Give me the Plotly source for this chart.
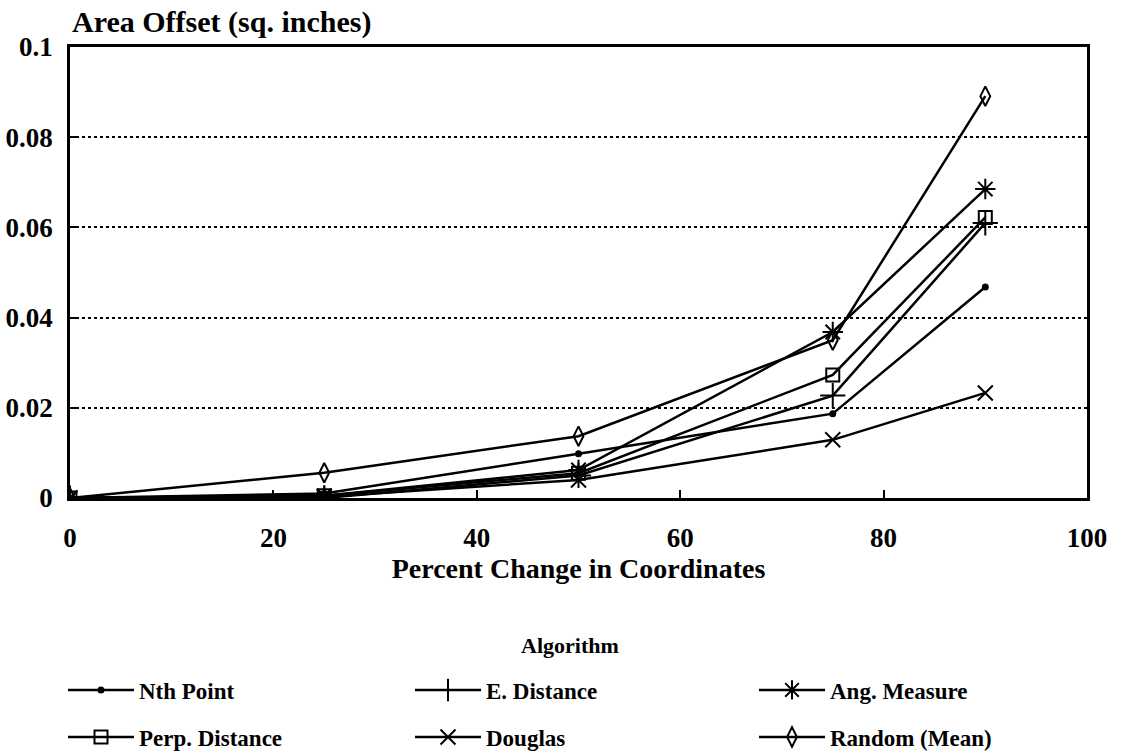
import plotly.graph_objects as go

x_pct = [0, 25, 50, 75, 90]
nth_point = [0, 0.001, 0.0098, 0.0187, 0.0468]
e_distance = [0, 0.0, 0.005, 0.0227, 0.0610]
ang_measure = [0, 0.0005, 0.0062, 0.0368, 0.0685]
perp_distance = [0, 0.0005, 0.0055, 0.0273, 0.0622]
douglas = [0, 0.0003, 0.0040, 0.0129, 0.0233]
random_mean = [0, 0.0056, 0.0137, 0.0350, 0.0891]

series = [
    ("Nth Point", nth_point, "circle", 5),
    ("E. Distance", e_distance, "cross-thin-open", 18),
    ("Ang. Measure", ang_measure, "asterisk-open", 17),
    ("Perp. Distance", perp_distance, "square-open", 13),
    ("Douglas", douglas, "x-thin-open", 15),
    ("Random (Mean)", random_mean, "diamond-tall-open", 14),
]

# legend grid: 3 columns x 2 rows (pixel anchors in the page)
legend_cols = [63, 410, 754]
legend_rows = [690, 737]

font_family = "Liberation Serif, Times New Roman, serif"

fig = go.Figure()
legend_layouts = {}
for i, (name, ys, sym, size) in enumerate(series):
    lid = "legend" if i == 0 else f"legend{i + 1}"
    fig.add_trace(go.Scatter(
        x=x_pct, y=ys, name=name, mode="lines+markers", legend=lid,
        line=dict(color="black", width=2.5),
        marker=dict(symbol=sym, size=size, color="black",
                    line=dict(color="black", width=2)),
    ))
    col, row = i % 3, i // 3
    legend_layouts[lid] = dict(
        orientation="h", xref="container", yref="container",
        x=legend_cols[col] / 1139, y=1 - legend_rows[row] / 756,
        xanchor="left", yanchor="middle", itemwidth=66,
        font=dict(size=23, family=font_family, weight="bold"),
        bgcolor="rgba(0,0,0,0)",
    )

fig.update_layout(
    width=1139, height=756,
    margin=dict(l=70, r=52, t=47, b=258),
    paper_bgcolor="white", plot_bgcolor="white",
    font=dict(family=font_family, color="black", size=20),
    xaxis=dict(
        range=[0, 100], tickvals=[0, 20, 40, 60, 80, 100],
        showline=True, linecolor="black", linewidth=2.5, mirror=True,
        ticks="inside", ticklen=8, tickcolor="black", tickwidth=1.5,
        showgrid=False, zeroline=False, ticklabelstandoff=14,
        automargin=False, tickangle=0,
        tickfont=dict(size=27, family=font_family, weight="bold"),
        title=dict(text="<b>Percent Change in Coordinates</b>",
                   font=dict(size=28, family=font_family), standoff=6),
    ),
    yaxis=dict(
        range=[0, 0.1], tickvals=[0, 0.02, 0.04, 0.06, 0.08, 0.1],
        ticktext=["0", "0.02", "0.04", "0.06", "0.08", "0.1"],
        showline=True, linecolor="black", linewidth=2.5, mirror=True,
        ticks="inside", ticklen=8, tickcolor="black", tickwidth=2,
        showgrid=True, gridcolor="black", griddash="dot",
        gridwidth=1.5, zeroline=False, ticklabelstandoff=9,
        automargin=False,
        tickfont=dict(size=27, family=font_family, weight="bold"),
    ),
    annotations=[
        dict(
            text="<b>Area Offset (sq. inches)</b>", xref="paper", yref="paper",
            x=0, y=1, xanchor="left", yanchor="bottom", yshift=6,
            showarrow=False, font=dict(size=30, family=font_family),
        ),
        dict(
            text="<b>Algorithm</b>", xref="paper", yref="paper",
            x=(570 - 70) / 1017, y=-(645 - 498) / 451, xanchor="center",
            yanchor="middle", showarrow=False,
            font=dict(size=22, family=font_family),
        ),
    ],
    showlegend=True,
    **legend_layouts,
)

fig.write_html("out.html")
